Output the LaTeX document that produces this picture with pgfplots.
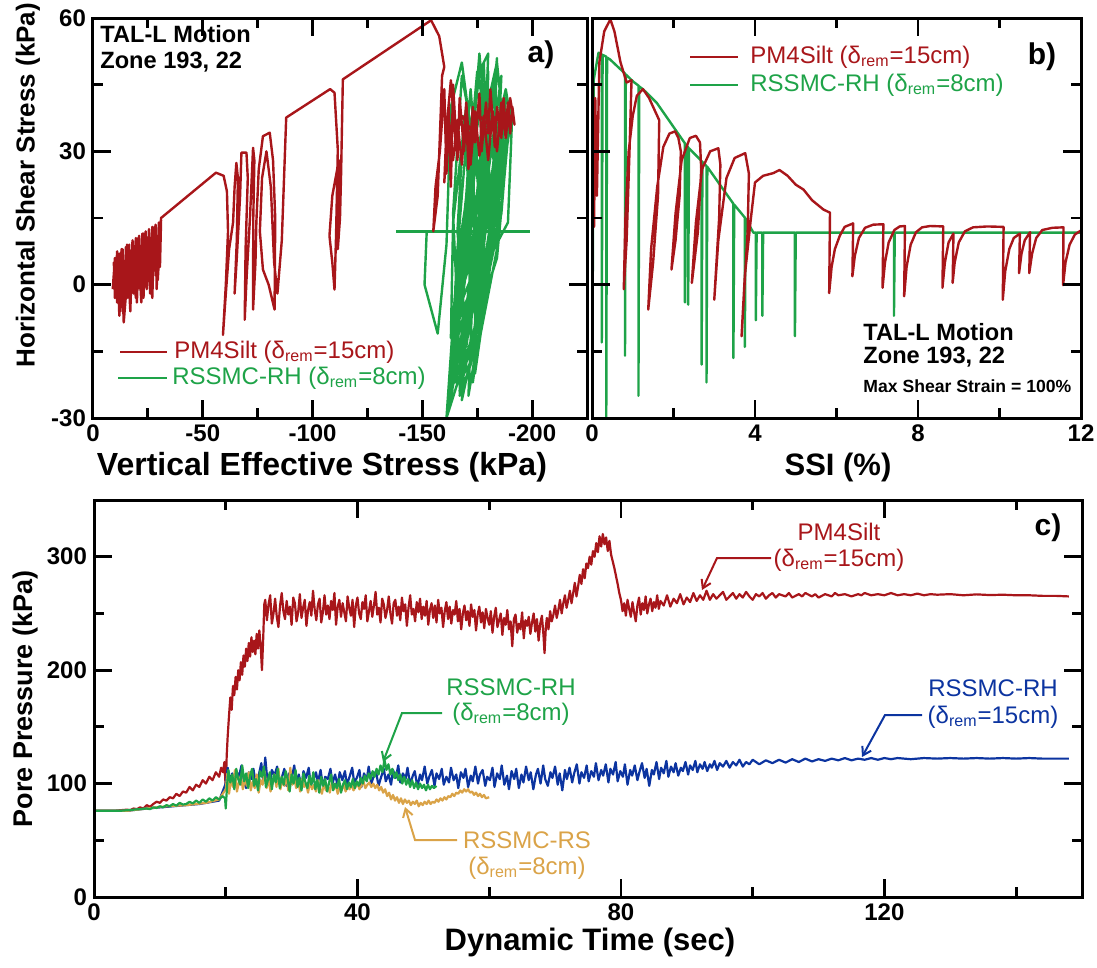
\documentclass[border=0pt]{standalone}
\usepackage{fontspec}
\setmainfont{Liberation Sans}
\usepackage{pgfplots}
\pgfplotsset{compat=1.18}
\usetikzlibrary{arrows.meta}

\definecolor{pmred}{RGB}{168,22,26}
\definecolor{rhgreen}{RGB}{30,163,72}
\definecolor{rhblue}{RGB}{12,52,160}
\definecolor{rsgold}{RGB}{218,163,72}

\pgfplotsset{
  panel/.style={
    scale only axis,
    axis on top,
    axis line style={line width=1.5pt},
    every tick/.style={black, line width=1.4pt},
    major tick length=9pt,
    minor tick length=5pt,
    tick align=inside,
    tick pos=both,
    ticklabel style={font=\fontsize{12}{12}\selectfont\bfseries},
  },
  dat/.style={line width=1.2pt, line join=round},
}
\newcommand{\lab}{\fontsize{15.5}{15.5}\selectfont\bfseries}
\newcommand{\ann}{\fontsize{12}{12}\selectfont}
\newcommand{\dr}[1]{(δ\textsubscript{rem}=#1)}

\begin{document}
\begin{tikzpicture}
\path[use as bounding box] (0pt,0pt) rectangle (548.5pt,-484pt);

% ---------------- panel a ----------------
\begin{axis}[panel,
  at={(46.5pt,-209pt)}, anchor=south west,
  width=247pt, height=200pt,
  xmin=-225, xmax=0, x dir=reverse,
  ymin=-30, ymax=60,
  xtick={0,-50,-100,-150,-200}, xticklabels={0,-50,-100,-150,-200},
  minor xtick={-25,-75,-125,-175},
  ytick={-30,0,30,60}, yticklabels={-30,0,30,60},
  minor ytick={-15,15,45},
]
% RSSMC-RH
\addplot[dat, rhgreen] coordinates {
(-152,12)(-151,0)(-157,-11)(-161,9)(-163,40)(-168,50)(-172,35)(-166,-10)(-162,-28)(-164,-15)
(-170,20)(-176,48)(-180,52)(-178,25)(-170,-12)(-165,-22)(-168,0)(-175,30)(-184,50)(-186,40)
(-180,10)(-172,-18)(-167,-25)(-170,-5)(-178,22)(-188,44)(-190,38)(-184,8)(-175,-15)(-169,-20)
(-165,-20)(-170,12)(-178,50)(-180,20)(-170,-14)(-174,15)(-183,46)(-178,15)(-162,-28)(-166,8)
(-172,44)(-176,18)(-174,-8)(-182,16)(-188,42)(-184,12)(-167,-24)(-170,14)(-176,52)(-181,22)
(-172,-18)(-178,10)(-185,38)(-180,8)(-163,-12)(-164,14)(-170,40)(-175,12)(-176,-4)(-184,18)
(-190,40)(-186,16)(-168,-26)(-173,10)(-180,48)(-179,20)(-171,-10)(-172,12)(-174,36)(-177,10)
(-164,-22)(-177,14)(-186,47)(-183,14)(-175,-16)(-178,8)(-181,34)(-176,6)(-166,-6)(-164,16)
(-168,47)(-178,20)(-173,-22)(-182,12)(-189,33)(-184,6)(-161,-30)(-166,6)(-177,42)(-178,16)
(-169,-16)(-178,18)(-184,51)(-182,22)(-177,-10)(-174,8)(-173,30)(-170,6)(-165,-14)(-180,14)
(-187,37)(-182,8)(-171,-25)(-174,12)(-179,45)(-176,16)(-178,0)(-173,14)(-171,34)(-178,18)
(-167,-18)(-184,16)(-191,39)(-189,14)(-172,-2)(-178,18)(-182,42)(-176,12)(-164,-8)(-170,20)
(-175,48)(-184,24)(-174,-20)(-182,8)(-186,30)(-178,4)(-170,-12)(-166,12)(-169,38)(-172,14)
(-168,-4)(-172,10)
};
\addplot[dat, rhgreen] coordinates {(-138,12)(-199,12)};
% PM4Silt
\addplot[dat, pmred] coordinates {
(-9,-1)(-10,6)(-11,-4)(-12,7)(-12.5,-6)(-13.5,8)(-14,-8)(-15,8.5)(-15.5,-3)(-16.5,9)
(-17,-5)(-18,10)(-18.5,-2)(-19.5,10.5)(-20,-4)(-21,11)(-21.5,-1)(-22.5,11.5)(-23,-3)(-24,12)
(-24.5,0)(-25.5,12.5)(-26,-2)(-27,13)(-27.5,2)(-28.5,13.5)(-29,-1)(-30,14)(-30.5,4)(-31,14.5)
(-29.5,1)(-28,13)(-27,-3)(-25.5,12)(-24.5,-1)(-23,11.5)(-22,-4)(-20.5,10.5)(-19.5,-3)(-18,10)
(-17,-6)(-15.5,9)(-14.5,-4)(-13,8)(-12,-7)(-11,7.5)(-10,-3)(-9.5,5)(-11,-2)(-13,6)(-14,-8.5)
(-16,4)(-18,0)(-20,8)(-22,2)(-24,10)(-26,3)(-28,12)(-30,6)(-31,15)
(-56,25.2)(-59.5,24.5)(-61,21)(-61.5,12)(-60.5,0)(-59.2,-11.3)(-60.5,-2)(-62,8)(-63.8,14)(-64.5,22)
(-65.3,27.4)(-66,24)(-65.5,10)(-64.5,-2)(-65.5,6)(-67,20)(-67.6,29.7)(-69.9,29.7)(-70.5,24)(-69.5,8)
(-69.1,-7.9)(-70,2)(-71.5,15)(-72.9,30.8)(-73.5,28)(-73,15)(-72.9,-5.6)(-74,5)(-74.4,14)(-75.5,26)
(-77.4,33.4)(-80.5,34.2)(-82,28)(-83,15)(-82.7,-5.6)(-80,0)(-77.4,3.4)(-76,12)(-77,24)(-79,30)
(-81,22)(-82.5,5)(-84,-2)(-86,10)(-88,37.6)
(-108,44)(-110,43.2)(-111.5,30.4)(-110.7,10.9)(-110,-1.1)(-109,5)(-107.7,11)(-109,20)(-112,28)
(-111.5,8)(-112.5,15)(-113,25)(-113.8,46.2)
(-154,59.5)(-157.7,55.9)(-160,49)(-159,47)(-157,20)(-155,12)(-156,22)(-158,30)(-160,44)(-161,25)
(-162,40)(-163,22)(-164,45)(-166,28)(-167,42)(-169,30)(-170,38)(-171,26)(-173,40)(-174,32)
(-176,43)(-177,30)(-179,41)(-180,34)(-181,44)(-183,31)(-184,40)(-186,33)(-187,42)(-188,35)
(-189,41)(-190,34)(-191,40)(-192,36)(-190,42)(-188,33)(-186,41)(-184,30)(-182,39)(-180,28)
(-178,38)(-176,29)(-174,39)(-172,27)(-170,41)(-168,27)(-166,37)(-164,28)(-162,38)(-160,23)
(-161,35)(-163,46)(-165,33)(-168,38)(-172,35)(-176,38)(-180,36)(-184,38)(-188,37)(-191,38)
};
\end{axis}

% ---------------- panel b ----------------
\begin{axis}[panel,
  at={(296pt,-209pt)}, anchor=south west,
  width=244.5pt, height=200pt,
  xmin=0, xmax=12, ymin=-30, ymax=60,
  xtick={0,4,8,12}, xticklabels={0,4,8,12},
  minor xtick={2,6,10},
  ytick={-30,0,30,60}, yticklabels={},
  minor ytick={-15,15,45},
]
\addplot[dat, rhgreen] coordinates {
(0,30)(0.02,46)(0.02,3)(0.04,46)(0.16,52.2)(0.24,51.8)(0.24,-13)(0.26,51.7)(0.35,51.3)(0.35,-30)
(0.37,51.1)(0.44,50.7)(0.81,47.5)(0.81,-16)(0.83,47.3)(1.01,45.7)(1.14,44.8)(1.14,-25)(1.16,44.6)
(1.26,43.9)(1.59,40.9)(2.28,31.8)(2.28,-4)(2.30,31.6)(2.36,30.9)(2.36,-4.5)(2.38,30.7)(2.69,27.8)
(2.69,-18)(2.71,27.6)(2.81,26.7)(2.81,-22)(2.83,26.5)(3.47,18.2)(3.47,-16.5)(3.49,18)(3.75,15.1)
(3.75,-14)(3.77,14.9)(3.96,11.7)(4.02,11.7)(4.02,-8)(4.04,11.7)(4.18,11.7)(4.18,-7)(4.20,11.7)
(4.98,11.7)(4.98,-11.6)(5.00,11.7)(7.41,11.7)(7.41,-7)(7.43,11.7)(12,11.7)
};
\addplot[dat, pmred] coordinates {
(0.02,45)(0.05,13)(0.08,42)(0.12,20)(0.18,50)(0.3,57)(0.45,59.7)(0.55,57)(0.7,50)(0.85,45.5)
(0.97,46)(0.92,30)(0.85,10)(0.78,-1)(0.82,15)(0.9,30)(1.0,38)(1.1,42.5)(1.25,44)(1.4,42)
(1.55,39)(1.65,37)(1.62,20)(1.5,5)(1.38,-5.6)(1.45,8)(1.6,22)(1.75,31)(1.9,34)(2.04,34.5)
(2.12,33)(2.18,30)(2.15,20)(2.05,10)(1.95,3.4)(2.05,16)(2.2,28)(2.4,33)(2.55,33.5)(2.65,32)
(2.68,26)(2.6,12)(2.45,0.4)(2.55,14)(2.7,26)(2.9,30)(3.1,30.7)(3.15,27)(3.12,15)(3.0,-3.4)
(3.1,10)(3.3,24)(3.5,28.5)(3.76,29.6)(3.85,25)(3.82,12)(3.67,-11.6)(3.75,2)(3.9,15)(4.0,23)
(4.2,24.5)(4.45,25.1)(4.6,25.8)(4.8,24.5)(5.0,22.5)(5.19,21.4)(5.4,19)(5.68,16.9)(5.84,16.2)
(5.82,-1.9)(5.88,4)(5.96,8)(6.08,11)(6.2,13)(6.41,13.8)(6.39,1.9)(6.45,6.5)(6.55,10.5)(6.7,12.8)
(6.9,13.5)(7.15,13.6)(7.13,-0.7)(7.19,5)(7.28,9.5)(7.42,12.3)(7.55,13.1)(7.68,13.2)(7.66,-2.6)
(7.72,4)(7.82,9)(7.95,11.8)(8.1,12.9)(8.3,13.2)(8.62,13.1)(8.6,-0.7)(8.66,5)(8.75,9.5)(8.87,11.5)
(8.85,0.4)(8.9,5)(9.0,9.5)(9.15,12)(9.35,12.9)(9.7,13.1)(10.1,13)(10.08,-3.4)(10.14,3)(10.24,8)
(10.35,10.5)(10.5,11.5)(10.48,2.6)(10.54,7)(10.62,10)(10.75,11.8)(10.73,2.6)(10.8,7)(10.9,10.5)
(11.05,12.3)(11.3,12.8)(11.57,12.9)(11.56,-0.1)(11.62,5)(11.72,9)(11.85,11.3)(12.0,12.2)
};
\end{axis}

% ---------------- panel c ----------------
\begin{axis}[panel,
  at={(47pt,-448.5pt)}, anchor=south west,
  width=494pt, height=198.5pt,
  xmin=0, xmax=150, ymin=0, ymax=350,
  xtick={0,40,80,120}, xticklabels={0,40,80,120},
  minor xtick={20,60,100,140},
  ytick={0,100,200,300}, yticklabels={0,100,200,300},
  minor ytick={50,150,250},
]
% PM4Silt
\addplot[dat, pmred, line width=1.1pt] coordinates {
(0,76)(3,76)(5,77)(5.5,76.5)(6,78)(6.5,77.5)(7,79)(7.5,78)(8,81)(8.5,79.5)(9,82)(9.5,84)(10,83)
(10.5,86)(11,85)(11.5,88)(12,87)(12.5,91)(13,89)(13.5,93)(14,92)(14.5,97)(15,94)(15.5,99)(16,97)
(16.5,103)(17,100)(17.5,106)(18,103)(18.5,110)(19,106)(19.3,114)(19.6,110)(19.8,119)(20,96)
(20.15,125)(20.3,142)(20.5,160)(20.7,176)(20.9,165)(21.1,186)(21.3,178)(21.5,194)(21.7,183)
(21.9,200)(22.1,191)(22.3,207)(22.5,196)(22.7,213)(22.9,203)(23.1,219)(23.3,208)(23.5,224)
(23.7,212)(23.9,229)(24.1,216)(24.3,226)(24.5,214)(24.7,232)(24.9,219)(25.1,235)(25.3,222)
(25.5,200)(25.7,230)(25.85,258)
(26.0,262)(26.25,244)(26.5,258)(26.75,266)(27.0,241)(27.25,250)(27.5,263)(27.75,247)(28.0,238)
(28.25,257)(28.5,268)(28.75,252)(29.0,245)(29.25,261)(29.5,249)(29.75,256)(30.0,240)(30.25,264)
(30.5,259)(30.75,243)(31.0,251)(31.25,267)(31.5,246)(31.75,255)(32.0,262)(32.25,239)(32.5,253)
(32.75,260)(33.0,248)(33.25,270)(33.5,254)(33.75,244)(34.0,258)(34.25,263)(34.5,242)(34.75,251)
(35.0,266)(35.25,249)(35.5,257)(35.75,245)(36.0,261)(36.25,253)(36.5,268)(36.75,240)(37.0,256)
(37.25,262)(37.5,247)(37.75,259)(38.0,251)(38.25,243)(38.5,265)(38.75,255)(39.0,248)(39.25,262)
(39.5,238)(39.75,257)(40.0,264)(40.25,250)(40.5,245)(40.75,260)(41.0,254)(41.25,266)(41.5,243)
(41.75,252)(42.0,261)(42.25,247)(42.5,257)(42.75,269)(43.0,249)(43.25,255)(43.5,242)(43.75,263)
(44.0,258)(44.25,246)(44.5,253)(44.75,265)(45.0,250)(45.25,241)(45.5,259)(45.75,262)(46.0,248)
(46.25,256)(46.5,244)(46.75,264)(47.0,252)(47.25,258)(47.5,239)(47.75,255)(48.0,266)(48.25,249)
(48.5,254)(48.75,243)(49.0,260)(49.25,251)(49.5,263)(49.75,245)(50.0,256)(50.25,248)(50.5,261)
(50.75,240)(51.0,253)(51.25,259)(51.5,246)(51.75,257)(52.0,242)(52.25,262)(52.5,250)(52.75,255)
(53.0,238)(53.25,252)(53.5,260)(53.75,245)(54.0,256)(54.25,241)(54.5,253)(54.75,249)(55.0,261)
(55.25,243)(55.5,254)(55.75,236)(56.0,250)(56.25,257)(56.5,244)(56.75,252)(57.0,239)(57.25,258)
(57.5,247)(57.75,253)(58.0,235)(58.25,249)(58.5,256)(58.75,242)(59.0,251)(59.25,237)(59.5,254)
(59.75,246)(60.0,240)(60.25,252)(60.5,233)(60.75,247)(61.0,255)(61.25,238)(61.5,244)(61.75,250)
(62.0,231)(62.25,246)(62.5,240)(62.75,253)(63.0,236)(63.25,243)(63.5,221)(63.75,245)(64.0,249)
(64.25,233)(64.5,241)(64.75,236)(65.0,251)(65.25,228)(65.5,244)(65.75,239)(66.0,247)(66.25,232)
(66.5,242)(66.75,250)(67.0,234)(67.25,245)(67.5,226)(67.75,241)(68.0,248)(68.25,230)(68.4,215)
(68.6,238)(68.75,246)(69.0,236)(69.25,252)(69.5,243)(69.75,249)(70.0,257)(70.25,246)(70.5,253)
(70.75,262)(71.0,250)(71.25,259)(71.5,266)(71.75,255)(72.0,262)(72.25,270)(72.5,259)(72.75,268)
(73.0,277)(73.25,265)(73.5,274)(73.75,284)(74.0,276)(74.25,289)(74.5,281)(74.75,294)(75.0,290)
(75.25,300)(75.5,293)(75.75,305)(76.0,300)(76.25,312)(76.5,304)(76.75,318)(77.0,309)(77.25,320)
(77.5,311)(77.75,317)(78.0,305)(78.25,314)(78.5,302)(78.75,296)(79.0,290)(79.25,283)(79.5,276)
(79.75,268)(80.0,262)(80.25,252)(80.5,259)(80.75,248)(81.0,262)(81.25,254)(81.5,247)(81.75,260)
(82.0,251)(82.25,243)(82.5,257)(82.75,264)(83.0,249)(83.25,259)(83.5,253)(83.75,265)(84.0,250)
(84.25,258)(84.5,263)(84.75,252)(85.0,260)(85.25,255)(85.5,266)(85.75,254)(86.0,261)(86.5,257)
(87.0,266)(87.5,256)(88.0,263)(88.5,259)(89.0,267)(89.5,258)(90.0,264)(90.5,260)(91.0,268)
(91.5,261)(92.0,266)(92.5,262)(93.0,270)(93.5,262)(94.0,267)(94.5,263)(95,266)(95.5,269)(96,262)
(96.5,265)(97,268)(97.5,263)(98,267)(98.5,264)(99,269)(99.5,265)(100,262)(100.5,267)(101,265)
(101.5,268)(102,263)(102.5,266)(103,268)(103.5,264)(104,267)(105,265)(105.5,268)(106,264)
(107,267)(107.5,265)(108,268)(109,265)(109.5,267)(110,264)(111,267)(112,265)(112.5,268)(113,266)
(114,267)(115,265)(116,267)(116.5,266)(117,268)(118,266)(119,267)(120,266)(121,268)(122,266)
(123,267)(124,266)(125,267.5)(126,266)(127,267)(128,266.5)(130,267)(132,266)(134,266.8)
(136,266.2)(138,266.5)(140,266)(142,266)(144,265.5)(146,265.5)(148,265)
};
% RSSMC-RH 15cm
\addplot[dat, rhblue, line width=1.1pt] coordinates {
(0,76)(5,76)(8,78)(12,80)(16,82)(19,85)
(20,100)(20.3,114)(20.6,103)(21,109)(21.3,97)(21.6,111)(22,106)(22.4,116)(22.8,101)(23.1,96)
(23.5,110)(23.9,104)(24.2,113)(24.6,99)(25,107)(25.4,118)(25.7,102)(26,123)(26.3,104)(26.7,99)
(27,112)(27.4,107)(27.8,115)(28.1,100)(28.5,105)(28.9,113)(29.2,98)(29.6,109)(30,104)(30.4,116)
(30.7,102)(31.1,108)(31.5,97)(31.8,111)(32.2,105)(32.6,114)(32.9,99)(33.3,103)(33.7,110)(34,101)
(34.4,112)(34.8,96)(35.1,106)(35.5,104)(35.9,113)(36.2,100)(36.6,108)(37,98)(37.3,110)(37.7,103)
(38.1,111)(38.4,99)(38.8,106)(39.2,114)(39.5,101)(39.9,105)(40.3,112)(40.6,97)(41,109)(41.4,103)
(41.7,115)(42.1,100)(42.5,107)(42.8,111)(43.2,98)(43.6,106)(44,113)(44.3,102)(44.7,108)(45.1,99)
(45.4,112)(45.8,105)(46.2,116)(46.5,101)(46.9,109)(47.3,104)(47.6,114)(48,99)(48.4,107)(48.7,111)
(49.1,97)(49.5,108)(49.8,103)(50.2,115)(50.6,100)(50.9,106)(51.3,112)(51.7,98)(52,109)(52.4,104)
(52.8,113)(53.1,99)(53.5,106)(53.9,101)(54.2,114)(54.6,103)(55,108)(55.3,96)(55.7,110)(56.1,105)
(56.4,113)(56.8,97)(57.2,107)(57.5,102)(57.9,115)(58.3,100)(58.6,108)(59,112)(59.4,98)(59.7,106)
(60.1,103)(60.5,114)(60.8,97)(61.2,109)(61.6,104)(61.9,116)(62.3,99)(62.7,107)(63,95)(63.4,111)
(63.8,104)(64.1,113)(64.5,96)(64.9,108)(65.2,101)(65.6,115)(66,103)(66.3,110)(66.7,95)(67.1,108)
(67.4,113)(67.8,100)(68.2,116)(68.5,104)(68.9,98)(69.3,110)(69.6,105)(70,115)(70.4,99)(70.7,109)
(71.1,94)(71.5,112)(71.8,104)(72.2,114)(72.6,101)(72.9,109)(73.3,117)(73.7,100)(74,110)(74.4,105)
(74.8,116)(75.1,102)(75.5,111)(75.9,106)(76.2,118)(76.6,103)(77,112)(77.3,107)(77.7,117)(78.1,101)
(78.4,113)(78.8,108)(79.2,119)(79.5,102)(79.9,111)(80.3,106)(80.6,117)(81,99)(81.4,112)(81.7,107)
(82.1,116)(82.5,103)(82.8,110)(83.2,118)(83.6,105)(83.9,113)(84.3,98)(84.7,112)(85,108)(85.4,119)
(85.8,104)(86.1,114)(86.5,109)(86.9,120)(87.2,106)(87.6,115)(88,110)(88.3,118)(88.7,107)(89.1,114)
(89.4,111)(89.8,119)(90.2,108)(90.5,116)(90.9,112)(91.3,120)(91.6,110)(92,117)(92.4,113)(92.7,119)
(93.1,111)(93.5,117)(93.8,114)(94.2,120)(94.6,112)(95,118)(95.5,115)(96,120)(96.5,114)(97,119)
(97.5,116)(98,121)(98.5,115)(99,119)(99.5,117)(100,121)(101,117)(102,120.5)(103,118)(104,121)
(105,118.5)(106,121.5)(107,119)(108,122)(109,119.5)(110,121.5)(111,120)(112,122)(113,120.5)
(114,122.5)(115,120.5)(116,122)(117,121)(118,122.5)(119,121)(120,122.5)(121,121.5)(122,122.5)
(124,121.5)(126,122.5)(128,122)(130,122.5)(132,122)(134,122.5)(136,122)(138,122.5)(140,122)
(142,122.5)(144,122)(146,122)(148,122)
};
% RSSMC-RS 8cm
\addplot[dat, rsgold, line width=1.1pt] coordinates {
(0,76)(5,76)(8,78)(11,80)(14,81)(17,83)(19,86)
(20,95)(20.25,109)(20.5,91)(20.8,104)(21.1,97)(21.4,112)(21.7,93)(22,101)(22.3,107)(22.6,95)
(22.9,104)(23.2,98)(23.5,110)(23.8,94)(24.1,102)(24.4,96)(24.7,108)(25,92)(25.3,103)(25.6,99)
(25.9,111)(26.2,96)(26.5,104)(26.8,93)(27.1,100)(27.4,108)(27.7,97)(28,113)(28.3,95)(28.6,103)
(28.9,98)(29.2,106)(29.5,94)(29.8,114)(30.1,99)(30.4,105)(30.7,96)(31,102)(31.3,93)(31.6,104)
(31.9,97)(32.2,100)(32.5,92)(32.8,102)(33.1,95)(33.4,99)(33.7,93)(34,103)(34.3,96)(34.6,91)
(34.9,100)(35.2,94)(35.5,98)(35.8,92)(36.1,101)(36.4,95)(36.7,99)(37,91)(37.3,97)(37.6,94)
(37.9,100)(38.2,93)(38.5,98)(38.8,95)(39.1,99)(39.4,94)(39.7,97)(40,100)(40.3,95)(40.6,98)
(40.9,102)(41.2,96)(41.5,99)(41.8,101)(42.1,97)(42.4,100)(42.7,96)(43,99)(43.3,94)(43.6,97)
(43.9,92)(44.2,95)(44.5,89)(44.8,92)(45.1,86)(45.4,90)(45.7,85)(46,88)(46.3,83)(46.6,87)(46.9,82)
(47.2,86)(47.5,83)(47.8,85)(48.1,81)(48.4,84)(48.7,82)(49,85)(49.3,80)(49.6,83)(49.9,81)(50.2,84)
(50.5,82)(50.8,85)(51.1,82)(51.4,84)(51.7,83)(52,86)(52.3,84)(52.6,87)(52.9,85)(53.2,88)(53.5,86)
(53.8,89)(54.1,88)(54.4,91)(54.7,89)(55,92)(55.3,91)(55.6,94)(55.9,92)(56.2,95)(56.5,93)(56.8,95)
(57.1,92)(57.4,93)(57.7,90)(58,92)(58.3,89)(58.6,91)(58.9,88)(59.2,90)(59.5,87)(60,88)
};
% RSSMC-RH 8cm
\addplot[dat, rhgreen, line width=1.1pt] coordinates {
(0,76)(4,76)(6,77)(8,78)(8.5,77.5)(9,79)(9.5,78.5)(10,80)(10.5,79)(11,81)(11.5,80)(12,82)(12.5,80.5)
(13,83)(13.5,81.5)(14,82)(14.5,84)(15,82.5)(15.5,85)(16,83)(16.5,86)(17,84)(17.5,87)(18,85)
(18.5,88)(19,86)(19.5,89)(19.9,87)(20,78)
(20.2,98)(20.4,112)(20.7,101)(21,108)(21.3,95)(21.6,113)(21.9,104)(22.2,99)(22.5,116)(22.8,102)
(23.1,109)(23.4,96)(23.7,107)(24,113)(24.3,98)(24.6,104)(24.9,94)(25.2,111)(25.5,106)(25.8,115)
(26.1,97)(26.4,103)(26.7,110)(27,95)(27.3,108)(27.6,101)(27.9,113)(28.2,96)(28.5,106)(28.8,99)
(29.1,111)(29.4,104)(29.7,93)(30,108)(30.3,100)(30.6,112)(30.9,97)(31.2,105)(31.5,94)(31.8,109)
(32.1,101)(32.4,96)(32.7,107)(33,99)(33.3,110)(33.6,95)(33.9,103)(34.2,92)(34.5,106)(34.8,98)
(35.1,104)(35.4,93)(35.7,101)(36,108)(36.3,94)(36.6,100)(36.9,96)(37.2,104)(37.5,92)(37.8,99)
(38.1,103)(38.4,95)(38.7,101)(39,97)(39.3,104)(39.6,96)(39.9,102)(40.2,98)(40.5,105)(40.8,100)
(41.1,107)(41.4,102)(41.7,109)(42,104)(42.3,111)(42.6,106)(42.9,113)(43.2,108)(43.5,116)
(43.8,110)(44.1,121)(44.4,112)(44.7,117)(45,108)(45.3,113)(45.6,105)(45.9,110)(46.2,103)
(46.5,108)(46.8,100)(47.1,106)(47.4,99)(47.7,104)(48,97)(48.3,103)(48.6,96)(48.9,101)(49.2,95)
(49.5,100)(49.8,96)(50.1,99)(50.4,94)(50.7,99)(51,95)(51.3,98)(51.6,96)(52,98)
};
\end{axis}

% ---------------- labels ----------------
\node[rotate=90, font=\fontsize{13}{13}\selectfont\bfseries] at (14pt,-92.5pt) {Horizontal Shear Stress (kPa)};
\node[font=\fontsize{16}{16}\selectfont\bfseries] at (161pt,-233.5pt) {Vertical Effective Stress (kPa)};
\node[font=\lab] at (419pt,-233.5pt) {SSI (\%)};
\node[rotate=90, font=\fontsize{13.5}{13.5}\selectfont\bfseries] at (13pt,-349.5pt) {Pore Pressure (kPa)};
\node[font=\lab] at (295pt,-471pt) {Dynamic Time (sec)};

% panel a texts
\node[anchor=base west, inner sep=0, font=\fontsize{11.8}{11.8}\selectfont\bfseries] at (50pt,-21.5pt) {TAL-L Motion};
\node[anchor=base west, inner sep=0, font=\fontsize{11.8}{11.8}\selectfont\bfseries] at (50pt,-34.5pt) {Zone 193, 22};
\node[font=\fontsize{15}{15}\selectfont\bfseries] at (270.5pt,-27.5pt) {a)};
\draw[pmred, line width=1.2pt] (60pt,-176pt) -- (83.5pt,-176pt);
\node[anchor=west, inner sep=0, text=pmred, font=\ann] at (87pt,-176pt) {PM4Silt \dr{15cm}};
\draw[rhgreen, line width=1.2pt] (59pt,-189pt) -- (83.5pt,-189pt);
\node[anchor=west, inner sep=0, text=rhgreen, font=\ann] at (86pt,-189pt) {RSSMC-RH \dr{8cm}};

% panel b texts
\draw[pmred, line width=1.2pt] (345pt,-28.5pt) -- (369pt,-28.5pt);
\node[anchor=west, inner sep=0, text=pmred, font=\ann] at (375pt,-28.5pt) {PM4Silt \dr{15cm}};
\draw[rhgreen, line width=1.2pt] (345pt,-42.5pt) -- (369pt,-42.5pt);
\node[anchor=west, inner sep=0, text=rhgreen, font=\ann] at (375pt,-42.5pt) {RSSMC-RH \dr{8cm}};
\node[font=\fontsize{15}{15}\selectfont\bfseries] at (521pt,-28.5pt) {b)};
\node[anchor=base west, inner sep=0, font=\fontsize{11.8}{11.8}\selectfont\bfseries] at (431.5pt,-170pt) {TAL-L Motion};
\node[anchor=base west, inner sep=0, font=\fontsize{11.8}{11.8}\selectfont\bfseries] at (431.5pt,-181.5pt) {Zone 193, 22};
\node[anchor=base west, inner sep=0, font=\fontsize{8.8}{8.8}\selectfont\bfseries] at (431.5pt,-196pt) {Max Shear Strain = 100\%};

% panel c texts
\node[font=\fontsize{15}{15}\selectfont\bfseries] at (524pt,-264pt) {c)};
\node[text=pmred, font=\ann] at (419.5pt,-266pt) {PM4Silt};
\node[text=pmred, font=\ann] at (419.5pt,-280pt) {\dr{15cm}};
\draw[pmred, line width=1pt, -{Straight Barb[length=4pt,width=5pt]}] (385.5pt,-279pt) -- (358.5pt,-279pt) -- (351pt,-295pt);
\node[text=rhblue, font=\ann] at (496.5pt,-344pt) {RSSMC-RH};
\node[text=rhblue, font=\ann] at (496.5pt,-358.5pt) {\dr{15cm}};
\draw[rhblue, line width=1pt, -{Straight Barb[length=4pt,width=5pt]}] (461pt,-357.5pt) -- (442.5pt,-357.5pt) -- (431pt,-378.5pt);
\node[text=rhgreen, font=\ann] at (255.5pt,-343.5pt) {RSSMC-RH};
\node[text=rhgreen, font=\ann] at (255.5pt,-357pt) {\dr{8cm}};
\draw[rhgreen, line width=1pt, -{Straight Barb[length=4pt,width=5pt]}] (221pt,-356.5pt) -- (201pt,-356.5pt) -- (191.5pt,-381pt);
\node[text=rsgold, font=\ann] at (263.5pt,-420pt) {RSSMC-RS};
\node[text=rsgold, font=\ann] at (263.5pt,-434pt) {\dr{8cm}};
\draw[rsgold, line width=1pt, -{Straight Barb[length=4pt,width=5pt]}] (228.5pt,-420pt) -- (207.5pt,-420pt) -- (202.5pt,-403.5pt);
\end{tikzpicture}
\end{document}
